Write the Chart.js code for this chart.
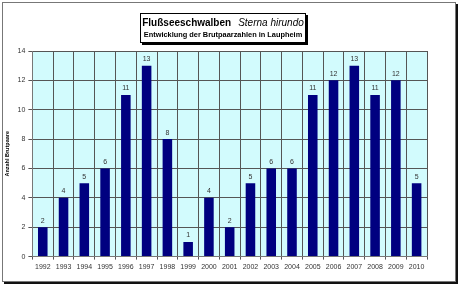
<!DOCTYPE html>
<html>
<head>
<meta charset="utf-8">
<script src="https://cdn.jsdelivr.net/npm/chart.js@4"></script>
<style>
  body { margin: 0; background: #fff; }
  #wrap { position: relative; width: 460px; height: 286px; }
  #frame {
    position: absolute; left: 2px; top: 2px; width: 452px; height: 278px;
    border: 1px solid #777; box-shadow: 2px 2px 0 #111; pointer-events: none;
  }
  #titel {
    position: absolute; left: 140px; top: 13px; width: 164px; height: 28px;
    border: 1px solid #000; box-shadow: 2px 2px 0 #000; background: #fff;
    font-family: "Liberation Sans", Arial, sans-serif; text-align: center; color: #000;
    white-space: nowrap;
  }
  #titel .z1 { font-size: 10px; font-weight: bold; margin-top: 3px; line-height: 12px; }
  #titel .z1 i { font-weight: normal; margin-left: 7px; }
  #titel .z2 { font-size: 7.4px; font-weight: bold; line-height: 10px; margin-top: 1px; }
</style>
</head>
<body>
<div id="wrap">
  <canvas id="brutChart" width="460" height="286"></canvas>
  <div id="frame"></div>
  <div id="titel">
    <div class="z1">Flußseeschwalben<i>Sterna hirundo</i></div>
    <div class="z2">Entwicklung der Brutpaarzahlen in Laupheim</div>
  </div>
</div>
<script>
// Daten: Brutpaare je Jahr
const jahre = ['1992','1993','1994','1995','1996','1997','1998','1999','2000','2001',
               '2002','2003','2004','2005','2006','2007','2008','2009','2010'];
const brutpaare = [2, 4, 5, 6, 11, 13, 8, 1, 4, 2, 5, 6, 6, 11, 12, 13, 11, 12, 5];
const yTicks = [0, 2, 4, 6, 8, 10, 12, 14];

// Hintergrund der Zeichenfläche (hellblau)
const flaeche = {
  id: 'flaeche',
  beforeDraw(chart) {
    const { ctx, chartArea: a } = chart;
    ctx.save();
    ctx.fillStyle = '#d2fbfd';
    ctx.fillRect(a.left, a.top, a.right - a.left, a.bottom - a.top);
    ctx.restore();
  }
};

// Werte über den Säulen
const werte = {
  id: 'werte',
  afterDatasetsDraw(chart) {
    const { ctx } = chart;
    const meta = chart.getDatasetMeta(0);
    ctx.save();
    ctx.font = '7px "Liberation Sans", Arial, sans-serif';
    ctx.fillStyle = '#333';
    ctx.textAlign = 'center';
    ctx.textBaseline = 'bottom';
    meta.data.forEach((bar, i) => {
      ctx.fillText(brutpaare[i], bar.x, bar.y - 3);
    });
    ctx.restore();
  }
};

const ctx = document.getElementById('brutChart').getContext('2d');
const brutChart = new Chart(ctx, {
  type: 'bar',
  data: {
    labels: jahre,
    datasets: [{
      data: brutpaare,
      backgroundColor: '#000080',
      borderWidth: 0,
      categoryPercentage: 1,
      barPercentage: 0.46
    }]
  },
  options: {
    responsive: false,
    animation: false,
    layout: { padding: { left: 4, top: 51, right: 33, bottom: 12 } },
    plugins: { legend: { display: false }, tooltip: { enabled: false } },
    scales: {
      x: {
        offset: true,
        grid: { offset: true, color: '#555', lineWidth: 1, tickLength: 3 },
        border: { color: '#777' },
        ticks: { color: '#333', font: { size: 7, family: '"Liberation Sans", Arial' }, maxRotation: 0, padding: 3 }
      },
      y: {
        min: 0, max: 14,
        afterBuildTicks(axis) { axis.ticks = yTicks.map(v => ({ value: v })); },
        grid: { color: '#555', lineWidth: 1, tickLength: 4 },
        border: { color: '#777' },
        ticks: { color: '#333', font: { size: 7, family: '"Liberation Sans", Arial' }, padding: 3 },
        title: {
          display: true, text: 'Anzahl Brutpaare', color: '#000',
          font: { size: 5.5, weight: 'bold', family: '"Liberation Sans", Arial' }, padding: { top: 0, bottom: 4 }
        }
      }
    }
  },
  plugins: [flaeche, werte]
});
</script>
</body>
</html>
